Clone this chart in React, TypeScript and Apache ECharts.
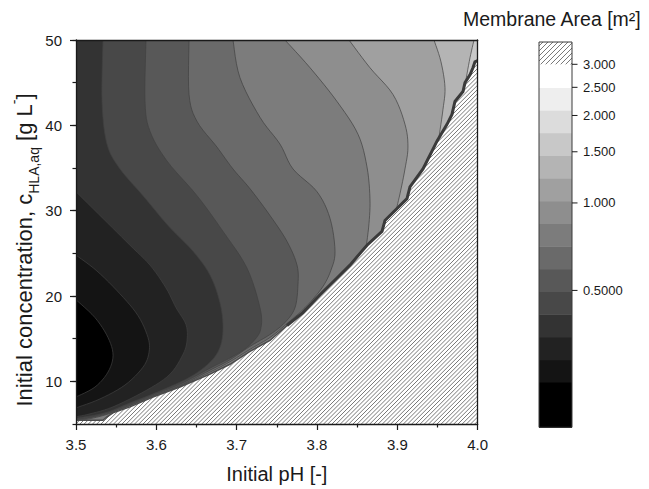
import React, { useEffect, useRef } from 'react';
import * as echarts from 'echarts';

// ---------- axes ----------
const X_MIN = 3.5, X_MAX = 4.0, Y_MIN = 5, Y_MAX = 50;
const xTicks = [3.5, 3.6, 3.7, 3.8, 3.9, 4.0];
const yMajorTicks = [10, 20, 30, 40, 50];

// ---------- colour bar ----------
const bandColors = ['#000000', '#000000', '#141414', '#222222', '#333333', '#484848', '#585858', '#6a6a6a',
  '#7c7c7c', '#8e8e8e', '#a0a0a0', '#b4b4b4', '#c8c8c8', '#dcdcdc', '#eeeeee', '#ffffff', 'hatch'];
const bandLevels = [0.169, 0.202, 0.242, 0.289, 0.346, 0.414, 0.496, 0.593, 0.71, 0.85, 1.017, 1.218,
  1.458, 1.744, 2.088, 2.5, 3.0, 3.58];
const cbTickValues = [3.0, 2.5, 2.0, 1.5, 1.0, 0.5];
const cbTickLabels = ['3.000', '2.500', '2.000', '1.500', '1.000', '0.5000'];

// ---------- contour lines (pH, concentration g/L) ----------
const contour0 = [[3.5, 19.56], [3.5236, 17.47], [3.5398, 15.14], [3.5461, 13.05], [3.5398, 11.08], [3.5236, 9.33], [3.5, 8.17]];
const contour1 = [[3.5, 24.79], [3.5261, 22.93], [3.5548, 20.25], [3.5772, 17.7], [3.5896, 15.14], [3.5909, 13.4], [3.5834, 11.66], [3.561, 9.57], [3.5299, 7.94], [3.5, 6.89]];
const contour2 = [[3.5, 32.22], [3.5336, 29.09], [3.5672, 25.95], [3.5921, 23.62], [3.612, 20.95], [3.6245, 18.63], [3.6369, 16.65], [3.6382, 14.79], [3.6332, 13.17], [3.617, 10.84], [3.5884, 8.99], [3.5461, 7.01], [3.5174, 6.19], [3.5, 5.85]];
const contour3 = [[3.5336, 50], [3.5324, 42.79], [3.5386, 37.8], [3.5548, 34.89], [3.5834, 31.76], [3.6145, 28.27], [3.6456, 25.25], [3.6668, 22.46], [3.6792, 19.21], [3.683, 16.3], [3.6792, 13.98], [3.6668, 12.24], [3.6419, 10.5], [3.6046, 8.87], [3.5672, 7.47], [3.5361, 6.31], [3.5, 5.67]];
const contour4 = [[3.5871, 50], [3.5859, 42.79], [3.5921, 39.31], [3.6133, 35.82], [3.6506, 31.76], [3.683, 27.57], [3.7128, 23.28], [3.729, 18.63], [3.7303, 16.3], [3.7228, 14.91], [3.7041, 13.4], [3.6668, 11.54], [3.6294, 9.68], [3.5921, 8.29], [3.5461, 6.55], [3.5174, 5.79], [3.5, 5.56]];
const contour5 = [[3.6407, 50], [3.6407, 43.61], [3.6506, 40.47], [3.6755, 37.45], [3.6954, 34.89], [3.7166, 32.57], [3.7415, 29.43], [3.7626, 26.41], [3.7751, 23.62], [3.7763, 21.3], [3.7726, 18.63], [3.7601, 16.89], [3.7415, 15.49], [3.7166, 14.1], [3.6917, 12.53], [3.6668, 11.31], [3.6294, 9.51], [3.5921, 8.17], [3.5461, 6.43], [3.5174, 5.73], [3.5, 5.5]];
const contour6 = [[3.6954, 50], [3.7041, 45.58], [3.729, 40.94], [3.7539, 37.8], [3.7701, 34.89], [3.8, 32.22], [3.8162, 29.09], [3.8224, 25.25], [3.8174, 23.04], [3.8062, 20.95], [3.785, 18.63], [3.7626, 16.77], [3.7415, 15.14], [3.7166, 13.75], [3.6917, 12.3], [3.6668, 11.08], [3.6294, 9.42], [3.5921, 8.1], [3.5461, 6.36], [3.5174, 5.62], [3.5, 5.46]];
const contour7 = [[3.7601, 50], [3.7913, 46.75], [3.8249, 42.79], [3.851, 38.96], [3.8622, 35.13], [3.8659, 31.41], [3.8647, 28.5], [3.861, 25.6]];
const contour8 = [[3.8398, 50], [3.8659, 46.75], [3.8946, 43.61], [3.9095, 40.12], [3.9132, 37.45], [3.9095, 34.89], [3.9033, 31.99], [3.8983, 30.01]];
const contour9 = [[3.9456, 50], [3.9543, 47.44], [3.9593, 44.42], [3.9568, 41.87], [3.9518, 38.61]];
const contour10 = [[3.9954, 50], [3.9904, 47.91], [3.9854, 45.35]];
const contours = [contour0, contour1, contour2, contour3, contour4, contour5, contour6, contour7, contour8, contour9, contour10];
// colour-bar band found on the low side of each contour
const contourBand = [1, 2, 3, 4, 5, 6, 7, 8, 9, 10, 11];
const backgroundBand = 12;

// boundary of the infeasible (hatched) region
const infeasibleEdge = [[3.5, 5.44], [3.5336, 5.44], [3.5386, 5.85], [3.5461, 6.31], [3.5672, 7.01], [3.5958, 8.17], [3.6294, 9.33], [3.6668, 10.84], [3.6917, 12.0], [3.7166, 13.52], [3.7415, 14.79], [3.7626, 16.54], [3.7825, 18.05], [3.8037, 20.14], [3.8249, 22.11], [3.841, 23.62], [3.8622, 25.95], [3.8809, 27.57], [3.8846, 28.85], [3.912, 31.41], [3.9157, 32.8], [3.9319, 34.89], [3.9369, 35.82], [3.9431, 36.98], [3.9493, 38.15], [3.9618, 40.12], [3.968, 41.28], [3.9717, 42.8], [3.9817, 43.96], [3.9842, 45.0], [3.9904, 45.93], [3.9941, 46.74], [3.9966, 47.44], [4.0, 47.6]];
const edgeDarkFrom = 16; // concentration above which the edge is drawn dark and thick

const FONT = "'Liberation Sans', Arial, Helvetica, sans-serif";
const INK = '#1a1a1a';

function smoothPath(pts: number[][], steps = 6): number[][] {
  if (pts.length < 3) return pts.slice();
  const out: number[][] = [];
  for (let i = 0; i < pts.length - 1; i++) {
    const p0 = pts[i - 1] || pts[i], p1 = pts[i], p2 = pts[i + 1], p3 = pts[i + 2] || pts[i + 1];
    for (let s = 0; s < steps; s++) {
      const t = s / steps, t2 = t * t, t3 = t2 * t;
      const f = (a: number, b: number, c: number, d: number) =>
        0.5 * (2 * b + (-a + c) * t + (2 * a - 5 * b + 4 * c - d) * t2 + (-a + 3 * b - 3 * c + d) * t3);
      out.push([f(p0[0], p1[0], p2[0], p3[0]), f(p0[1], p1[1], p2[1], p3[1])]);
    }
  }
  out.push(pts[pts.length - 1]);
  return out;
}

function hatchLines(poly: number[][], spacing: number, color: string, width: number) {
  let minC = Infinity, maxC = -Infinity;
  poly.forEach(([x, y]) => { minC = Math.min(minC, x + y); maxC = Math.max(maxC, x + y); });
  const out: any[] = [];
  for (let c = Math.ceil(minC / spacing) * spacing; c <= maxC; c += spacing) {
    const xs: number[] = [];
    for (let i = 0; i < poly.length; i++) {
      const [x1, y1] = poly[i];
      const [x2, y2] = poly[(i + 1) % poly.length];
      const s1 = x1 + y1 - c, s2 = x2 + y2 - c;
      if ((s1 < 0) !== (s2 < 0)) {
        const t = s1 / (s1 - s2);
        xs.push(x1 + t * (x2 - x1));
      }
    }
    xs.sort((a, b) => a - b);
    for (let k = 0; k + 1 < xs.length; k += 2) {
      out.push({ type: 'line', shape: { x1: xs[k], y1: c - xs[k], x2: xs[k + 1], y2: c - xs[k + 1] }, style: { stroke: color, lineWidth: width } });
    }
  }
  return out;
}

function regionPixels(c: number[][], P: (p: number[]) => number[]) {
  const first = c[0], last = c[c.length - 1];
  const pts: number[][] = [];
  if (first[1] >= Y_MAX - 1e-6) pts.push(P([X_MIN, Y_MAX]));
  smoothPath(c.map(P)).forEach((p) => pts.push(p));
  if (last[0] > X_MIN + 1e-6) {
    infeasibleEdge.filter((p) => p[1] < last[1]).reverse().forEach((p) => pts.push(P(p)));
    pts.push(P([X_MIN, Y_MIN]));
  }
  return pts;
}

function renderContours(_params: any, api: any) {
  const P = (p: number[]) => api.coord(p);
  const children: any[] = [];
  const tl = P([X_MIN, Y_MAX]), br = P([X_MAX, Y_MIN]);
  children.push({ type: 'rect', shape: { x: tl[0], y: tl[1], width: br[0] - tl[0], height: br[1] - tl[1] }, style: { fill: bandColors[backgroundBand] } });
  for (let j = contours.length - 1; j >= 0; j--) {
    children.push({ type: 'polygon', shape: { points: regionPixels(contours[j], P) }, style: { fill: bandColors[contourBand[j]] } });
  }
  contours.forEach((c) => {
    children.push({ type: 'polyline', shape: { points: smoothPath(c.map(P)) }, style: { stroke: '#404040', lineWidth: 0.7, fill: null } });
  });
  const edge = infeasibleEdge.map(P);
  const hatchPoly = [...edge, P([X_MAX, Y_MIN]), P([X_MIN, Y_MIN])];
  children.push({ type: 'polygon', shape: { points: hatchPoly }, style: { fill: '#ffffff' } });
  hatchLines(hatchPoly, 4.2, '#555555', 0.8).forEach((l) => children.push(l));
  children.push({ type: 'polyline', shape: { points: edge }, style: { stroke: '#4a4a4a', lineWidth: 1.5, fill: null } });
  const upper = infeasibleEdge.filter((p) => p[1] >= edgeDarkFrom).map(P);
  children.push({ type: 'polyline', shape: { points: upper }, style: { stroke: '#3a3a3a', lineWidth: 3, fill: null, lineJoin: 'miter' } });
  return { type: 'group', children };
}

function renderColorbar(_params: any, api: any) {
  const C = (v: number) => api.coord([0, Math.log10(v)]);
  const xL = api.coord([0, 0])[0], xR = api.coord([1, 0])[0];
  const children: any[] = [];
  for (let i = 0; i < bandColors.length; i++) {
    const yLo = C(bandLevels[i])[1], yHi = C(bandLevels[i + 1])[1];
    if (bandColors[i] === 'hatch') {
      const poly = [[xL, yHi], [xR, yHi], [xR, yLo], [xL, yLo]];
      children.push({ type: 'rect', shape: { x: xL, y: yHi, width: xR - xL, height: yLo - yHi }, style: { fill: '#ffffff' } });
      hatchLines(poly, 5, '#555555', 0.8).forEach((l) => children.push(l));
    } else {
      children.push({ type: 'rect', shape: { x: xL, y: yHi, width: xR - xL, height: yLo - yHi + 0.6 }, style: { fill: bandColors[i] } });
    }
  }
  const yTop = C(bandLevels[bandLevels.length - 1])[1], yBot = C(bandLevels[0])[1];
  children.push({ type: 'rect', shape: { x: xL, y: yTop, width: xR - xL, height: yBot - yTop }, style: { fill: null, stroke: '#3a3a3a', lineWidth: 1 } });
  cbTickValues.forEach((v, i) => {
    const y = C(v)[1];
    children.push({ type: 'line', shape: { x1: xR, y1: y, x2: xR + 5.5, y2: y }, style: { stroke: INK, lineWidth: 1 } });
    children.push({ type: 'text', x: xR + 11, y, style: { text: cbTickLabels[i], fill: INK, fontSize: 13, fontFamily: FONT, align: 'left', verticalAlign: 'middle' } });
  });
  return { type: 'group', children };
}

const axisLineStyle = { color: INK, width: 1.3 };

const option: any = {
  animation: false,
  backgroundColor: '#ffffff',
  title: {
    text: 'Membrane Area [m²]', left: 463, top: 9, padding: 0,
    textStyle: { fontFamily: FONT, fontSize: 19.5, fontWeight: 'normal', color: INK },
  },
  graphic: [
    {
      type: 'text', x: 24, y: 250, rotation: Math.PI / 2, silent: true,
      style: {
        text: 'Initial concentration, c{sub|HLA,aq} [g L{sup|-}]',
        fontFamily: FONT, fontSize: 22, lineHeight: 34, fill: INK, align: 'center', verticalAlign: 'middle',
        rich: {
          sub: { fontFamily: FONT, fontSize: 14, fill: INK, verticalAlign: 'bottom', lineHeight: 14 },
          sup: { fontFamily: FONT, fontSize: 14, fill: INK, verticalAlign: 'top', lineHeight: 14 },
        },
      },
    },
  ],
  grid: [
    { left: 76, top: 40, width: 401.7, height: 387.3 },
    { left: 539, top: 42, width: 33, height: 385.3 },
  ],
  xAxis: [
    {
      type: 'value', gridIndex: 0, min: X_MIN, max: X_MAX, interval: 0.1, position: 'bottom', z: 10,
      axisLine: { show: true, onZero: false, lineStyle: axisLineStyle },
      axisTick: { show: true, length: 6, customValues: xTicks, lineStyle: { color: INK, width: 1.2 } },
      minorTick: { show: true, splitNumber: 2, length: 3.5, lineStyle: { color: INK, width: 1.2 } },
      splitLine: { show: false }, minorSplitLine: { show: false },
      axisLabel: { customValues: xTicks, fontFamily: FONT, fontSize: 15, color: INK, margin: 13, formatter: (v: number) => v.toFixed(1) },
      name: 'Initial pH [-]', nameLocation: 'middle', nameGap: 40,
      nameTextStyle: { fontFamily: FONT, fontSize: 20, color: INK },
    },
    {
      type: 'value', gridIndex: 0, min: X_MIN, max: X_MAX, position: 'top', z: 10,
      axisLine: { show: true, onZero: false, lineStyle: axisLineStyle },
      axisTick: { show: false }, axisLabel: { show: false }, splitLine: { show: false },
    },
    { type: 'value', gridIndex: 1, min: 0, max: 1, show: false },
  ],
  yAxis: [
    {
      type: 'value', gridIndex: 0, min: Y_MIN, max: Y_MAX, interval: 5, position: 'left', z: 10,
      axisLine: { show: true, onZero: false, lineStyle: axisLineStyle },
      axisTick: { show: true, length: 6, customValues: yMajorTicks, lineStyle: { color: INK, width: 1.2 } },
      axisLabel: { customValues: yMajorTicks, fontFamily: FONT, fontSize: 15, color: INK, margin: 14 },
      splitLine: { show: false },
    },
    {
      type: 'value', gridIndex: 0, min: Y_MIN, max: Y_MAX, interval: 5, position: 'left', z: 9,
      axisLine: { show: false, onZero: false }, axisTick: { show: true, length: 3.5, lineStyle: { color: INK, width: 1.2 } },
      axisLabel: { show: false }, splitLine: { show: false },
    },
    {
      type: 'value', gridIndex: 0, min: Y_MIN, max: Y_MAX, position: 'right', z: 10,
      axisLine: { show: true, onZero: false, lineStyle: axisLineStyle },
      axisTick: { show: false }, axisLabel: { show: false }, splitLine: { show: false },
    },
    {
      type: 'value', gridIndex: 1, min: Math.log10(bandLevels[0]), max: Math.log10(bandLevels[bandLevels.length - 1]), show: false,
    },
  ],
  series: [
    {
      type: 'custom', coordinateSystem: 'cartesian2d', xAxisIndex: 0, yAxisIndex: 0, z: 1,
      silent: true, clip: true, data: [[X_MIN, Y_MIN]], renderItem: renderContours,
    },
    {
      type: 'custom', coordinateSystem: 'cartesian2d', xAxisIndex: 2, yAxisIndex: 3, z: 1,
      silent: true, clip: false, data: [[0, 0]], renderItem: renderColorbar,
    },
  ],
};

export default function App() {
  const ref = useRef<HTMLDivElement>(null);
  useEffect(() => {
    const chart = echarts.init(ref.current as HTMLDivElement, null, { renderer: 'svg' });
    chart.setOption(option);
    return () => chart.dispose();
  }, []);
  return <div ref={ref} style={{ position: 'fixed', left: 0, top: 0, width: 649, height: 489 }} />;
}
